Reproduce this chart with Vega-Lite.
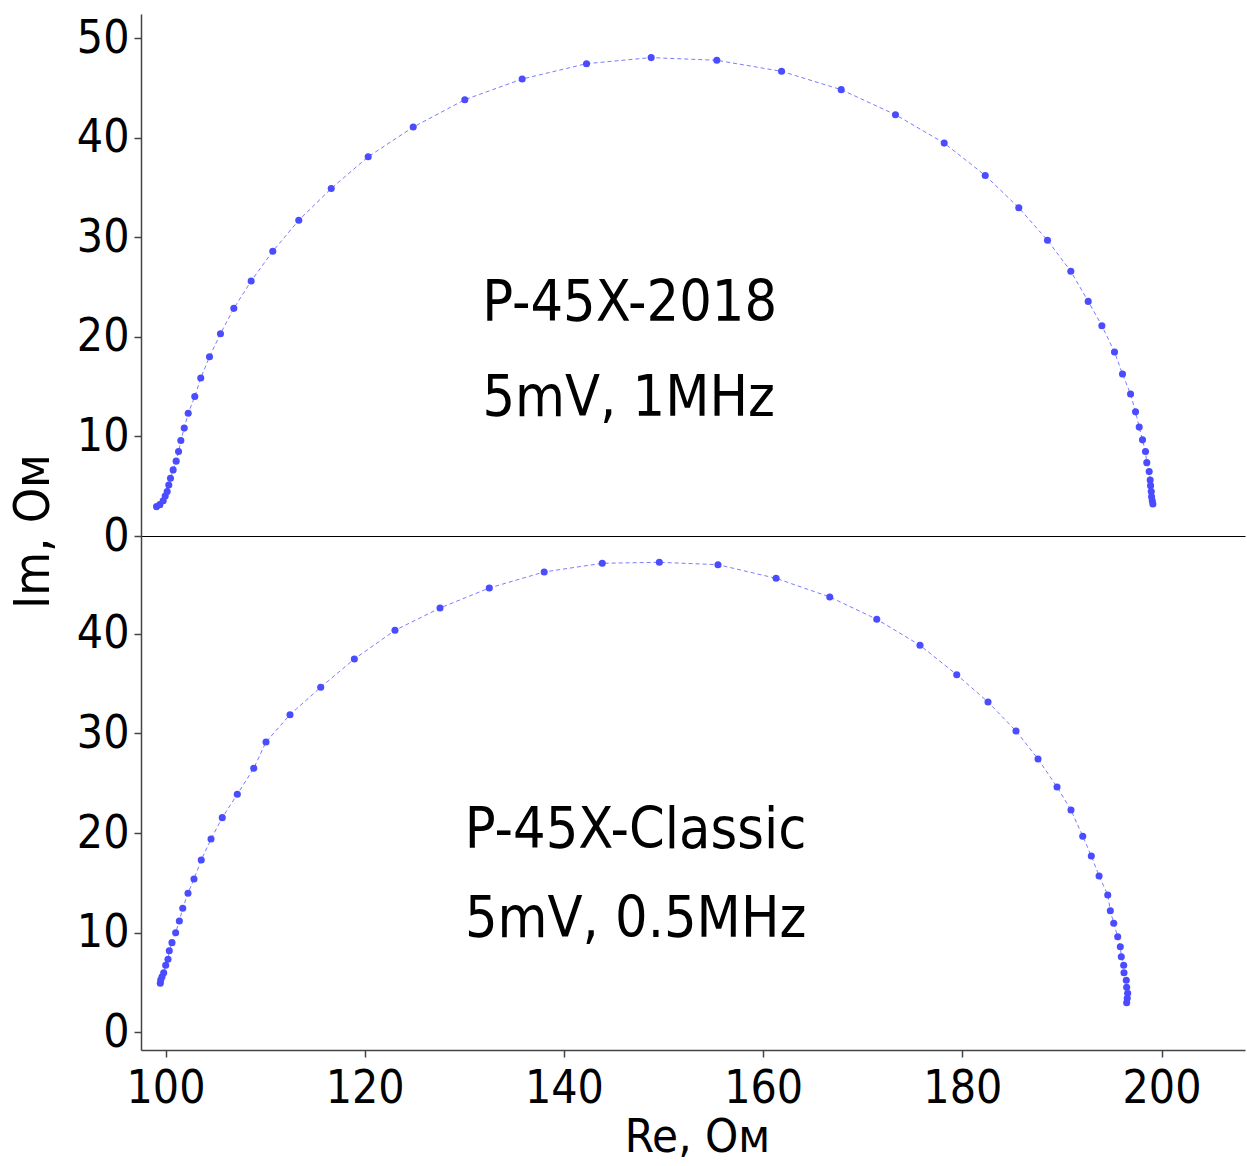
{
  "$schema": "https://vega.github.io/schema/vega-lite/v6.json",
  "padding": {"left": 8, "top": 14, "right": 2, "bottom": 0},
  "background": "white",
  "spacing": 0,
  "bounds": "flush",
  "config": {
    "view": {"stroke": null},
    "font": "DejaVu Sans Condensed, DejaVu Sans",
    "axis": {
      "labelFont": "DejaVu Sans Condensed, DejaVu Sans",
      "titleFont": "DejaVu Sans Condensed, DejaVu Sans",
      "labelFontSize": 46,
      "titleFontSize": 50,
      "titleFontWeight": "normal",
      "labelColor": "black",
      "titleColor": "black",
      "domainColor": "#444444",
      "domainWidth": 1.5,
      "tickColor": "#444444",
      "tickWidth": 1.5,
      "tickSize": 7,
      "grid": false
    }
  },
  "datasets": {
    "top": [
      {"i": 1, "re": 99.10, "im": 2.95}, {"i": 2, "re": 99.43, "im": 3.15}, {"i": 3, "re": 99.77, "im": 3.55},
      {"i": 4, "re": 99.97, "im": 4.02}, {"i": 5, "re": 100.17, "im": 4.46}, {"i": 6, "re": 100.33, "im": 5.13},
      {"i": 7, "re": 100.50, "im": 5.80}, {"i": 8, "re": 100.77, "im": 6.64}, {"i": 9, "re": 101.07, "im": 7.52},
      {"i": 10, "re": 101.31, "im": 8.48}, {"i": 11, "re": 101.54, "im": 9.59}, {"i": 12, "re": 101.88, "im": 10.84},
      {"i": 13, "re": 102.28, "im": 12.34}, {"i": 14, "re": 102.94, "im": 14.01}, {"i": 15, "re": 103.54, "im": 15.87},
      {"i": 16, "re": 104.42, "im": 18.01}, {"i": 17, "re": 105.52, "im": 20.32}, {"i": 18, "re": 106.86, "im": 22.87},
      {"i": 19, "re": 108.60, "im": 25.62}, {"i": 20, "re": 110.77, "im": 28.60}, {"i": 21, "re": 113.38, "im": 31.72},
      {"i": 22, "re": 116.64, "im": 34.91}, {"i": 23, "re": 120.35, "im": 38.10}, {"i": 24, "re": 124.87, "im": 41.08},
      {"i": 25, "re": 130.05, "im": 43.83}, {"i": 26, "re": 135.81, "im": 45.91}, {"i": 27, "re": 142.27, "im": 47.45},
      {"i": 28, "re": 148.76, "im": 48.06}, {"i": 29, "re": 155.35, "im": 47.79}, {"i": 30, "re": 161.85, "im": 46.68},
      {"i": 31, "re": 167.84, "im": 44.84}, {"i": 32, "re": 173.29, "im": 42.32}, {"i": 33, "re": 178.18, "im": 39.47},
      {"i": 34, "re": 182.30, "im": 36.22}, {"i": 35, "re": 185.67, "im": 32.97}, {"i": 36, "re": 188.55, "im": 29.71},
      {"i": 37, "re": 190.89, "im": 26.59}, {"i": 38, "re": 192.64, "im": 23.57}, {"i": 39, "re": 194.01, "im": 21.13},
      {"i": 40, "re": 195.28, "im": 18.48}, {"i": 41, "re": 196.08, "im": 16.27}, {"i": 42, "re": 196.89, "im": 14.26},
      {"i": 43, "re": 197.39, "im": 12.47}, {"i": 44, "re": 197.76, "im": 10.94}, {"i": 45, "re": 198.09, "im": 9.66},
      {"i": 46, "re": 198.39, "im": 8.48}, {"i": 47, "re": 198.52, "im": 7.37}, {"i": 48, "re": 198.76, "im": 6.47},
      {"i": 49, "re": 198.86, "im": 5.63}, {"i": 50, "re": 198.90, "im": 5.06}, {"i": 51, "re": 198.97, "im": 4.46},
      {"i": 52, "re": 199.00, "im": 3.95}, {"i": 53, "re": 199.07, "im": 3.55}, {"i": 54, "re": 199.13, "im": 3.22}
    ],
    "bottom": [
      {"i": 1, "re": 99.48, "im": 4.92}, {"i": 2, "re": 99.52, "im": 5.25}, {"i": 3, "re": 99.65, "im": 5.58},
      {"i": 4, "re": 99.82, "im": 5.98}, {"i": 5, "re": 100.02, "im": 6.73}, {"i": 6, "re": 100.25, "im": 7.33},
      {"i": 7, "re": 100.38, "im": 8.19}, {"i": 8, "re": 100.65, "im": 9.00}, {"i": 9, "re": 101.02, "im": 10.00},
      {"i": 10, "re": 101.39, "im": 11.17}, {"i": 11, "re": 101.73, "im": 12.45}, {"i": 12, "re": 102.26, "im": 13.96},
      {"i": 13, "re": 102.86, "im": 15.39}, {"i": 14, "re": 103.59, "im": 17.30}, {"i": 15, "re": 104.57, "im": 19.41},
      {"i": 16, "re": 105.70, "im": 21.55}, {"i": 17, "re": 107.21, "im": 23.90}, {"i": 18, "re": 108.86, "im": 26.51},
      {"i": 19, "re": 110.09, "im": 29.15}, {"i": 20, "re": 112.50, "im": 31.89}, {"i": 21, "re": 115.58, "im": 34.64},
      {"i": 22, "re": 118.96, "im": 37.48}, {"i": 23, "re": 123.04, "im": 40.36}, {"i": 24, "re": 127.56, "im": 42.60},
      {"i": 25, "re": 132.51, "im": 44.61}, {"i": 26, "re": 138.02, "im": 46.22}, {"i": 27, "re": 143.85, "im": 47.09},
      {"i": 28, "re": 149.58, "im": 47.19}, {"i": 29, "re": 155.47, "im": 46.95}, {"i": 30, "re": 161.30, "im": 45.58},
      {"i": 31, "re": 166.69, "im": 43.71}, {"i": 32, "re": 171.41, "im": 41.47}, {"i": 33, "re": 175.75, "im": 38.86},
      {"i": 34, "re": 179.44, "im": 35.90}, {"i": 35, "re": 182.58, "im": 33.16}, {"i": 36, "re": 185.39, "im": 30.25},
      {"i": 37, "re": 187.60, "im": 27.44}, {"i": 38, "re": 189.51, "im": 24.63}, {"i": 39, "re": 190.91, "im": 22.32},
      {"i": 40, "re": 192.09, "im": 19.68}, {"i": 41, "re": 192.95, "im": 17.70}, {"i": 42, "re": 193.73, "im": 15.69},
      {"i": 43, "re": 194.60, "im": 13.79}, {"i": 44, "re": 194.86, "im": 12.21}, {"i": 45, "re": 195.20, "im": 10.94},
      {"i": 46, "re": 195.60, "im": 9.60}, {"i": 47, "re": 195.86, "im": 8.59}, {"i": 48, "re": 195.96, "im": 7.59},
      {"i": 49, "re": 196.20, "im": 6.73}, {"i": 50, "re": 196.23, "im": 5.98}, {"i": 51, "re": 196.46, "im": 5.22},
      {"i": 52, "re": 196.50, "im": 4.52}, {"i": 53, "re": 196.60, "im": 3.92}, {"i": 54, "re": 196.56, "im": 3.41},
      {"i": 55, "re": 196.50, "im": 2.97}
    ],
    "labelsTop": [
      {"re": 146.6, "im": 23.3, "label": "P-45X-2018"},
      {"re": 146.5, "im": 13.8, "label": "5mV, 1MHz"}
    ],
    "labelsBottom": [
      {"re": 147.2, "im": 20.2, "label": "P-45X-Classic"},
      {"re": 147.2, "im": 11.3, "label": "5mV, 0.5MHz"}
    ]
  },
  "vconcat": [
    {
      "width": 1104,
      "height": 522,
      "layer": [
        {
          "data": {"name": "top"},
          "mark": {"type": "line", "color": "#7b7bff", "strokeWidth": 1, "strokeDash": [4, 3]},
          "encoding": {
            "x": {"field": "re", "type": "quantitative", "scale": {"domain": [97.54, 208.38], "nice": false, "zero": false},
                  "axis": {"orient": "bottom", "labels": false, "ticks": false, "title": null, "domainColor": "black", "domainWidth": 1}},
            "y": {"field": "im", "type": "quantitative", "scale": {"domain": [0, 52.44], "nice": false, "zero": false},
                  "axis": {"values": [0, 10, 20, 30, 40, 50], "labelPadding": 5, "title": "Im, Ом",
                           "titleAngle": -90, "titleX": -108, "titleY": 517, "titleAlign": "center", "titleBaseline": "middle"}},
            "order": {"field": "i", "type": "quantitative"}
          }
        },
        {
          "data": {"name": "top"},
          "mark": {"type": "circle", "color": "#4b4bff", "opacity": 1, "size": 50},
          "encoding": {
            "x": {"field": "re", "type": "quantitative"},
            "y": {"field": "im", "type": "quantitative"}
          }
        },
        {
          "data": {"name": "labelsTop"},
          "mark": {"type": "text", "fontSize": 57, "color": "black", "align": "center", "baseline": "middle"},
          "encoding": {
            "x": {"field": "re", "type": "quantitative"},
            "y": {"field": "im", "type": "quantitative"},
            "text": {"field": "label"}
          }
        }
      ]
    },
    {
      "width": 1104,
      "height": 514,
      "layer": [
        {
          "data": {"name": "bottom"},
          "mark": {"type": "line", "color": "#7b7bff", "strokeWidth": 1, "strokeDash": [4, 3]},
          "encoding": {
            "x": {"field": "re", "type": "quantitative", "scale": {"domain": [97.54, 208.38], "nice": false, "zero": false},
                  "axis": {"values": [100, 120, 140, 160, 180, 200], "labelPadding": 9, "title": "Re, Ом", "titlePadding": 3, "titleFontSize": 47, "titleX": 556}},
            "y": {"field": "im", "type": "quantitative", "scale": {"domain": [-1.78, 49.83], "nice": false, "zero": false},
                  "axis": {"values": [0, 10, 20, 30, 40], "labelPadding": 5, "title": null}},
            "order": {"field": "i", "type": "quantitative"}
          }
        },
        {
          "data": {"name": "bottom"},
          "mark": {"type": "circle", "color": "#4b4bff", "opacity": 1, "size": 50},
          "encoding": {
            "x": {"field": "re", "type": "quantitative"},
            "y": {"field": "im", "type": "quantitative"}
          }
        },
        {
          "data": {"name": "labelsBottom"},
          "mark": {"type": "text", "fontSize": 57, "color": "black", "align": "center", "baseline": "middle"},
          "encoding": {
            "x": {"field": "re", "type": "quantitative"},
            "y": {"field": "im", "type": "quantitative"},
            "text": {"field": "label"}
          }
        }
      ]
    }
  ]
}
